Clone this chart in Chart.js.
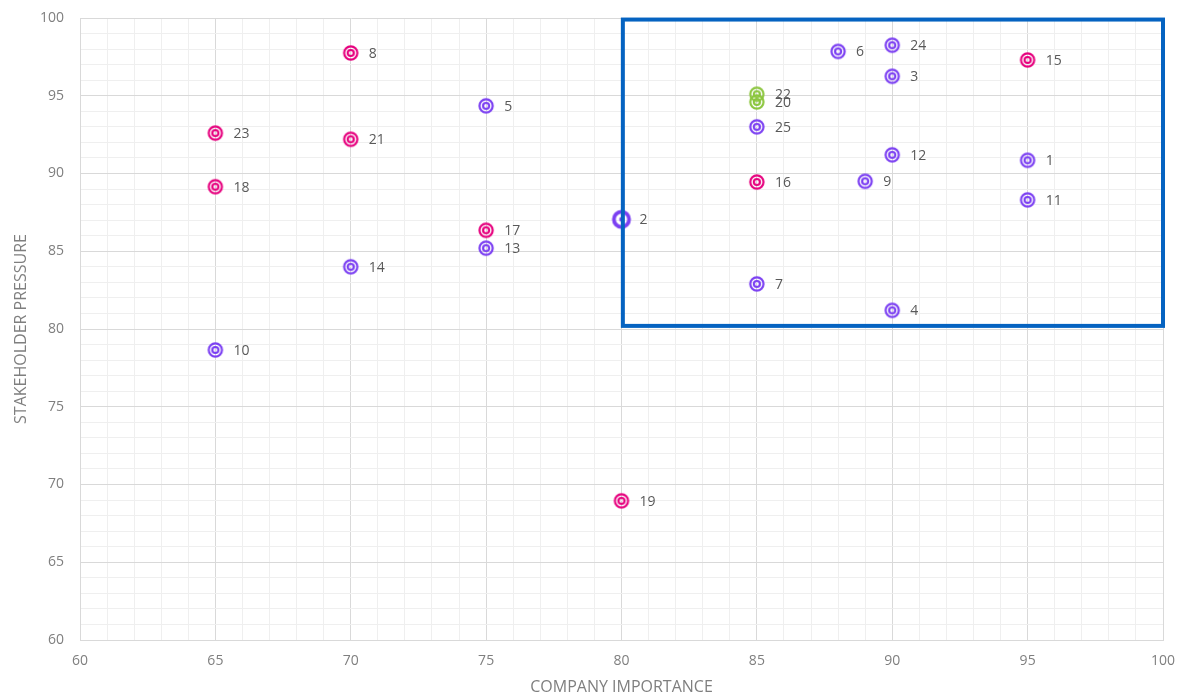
<!DOCTYPE html>
<html>
<head>
<meta charset="utf-8">
<script src="https://cdn.jsdelivr.net/npm/chart.js@4.4.1/dist/chart.umd.min.js"></script>
<style>
  html, body { margin: 0; padding: 0; background: #ffffff; }
  #wrap { width: 1185px; height: 697px; }
</style>
</head>
<body>
<div id="wrap"><canvas id="c" width="1185" height="697"></canvas></div>
<script>
// Materiality topics: id, company importance (x), stakeholder pressure (y), group
const topicIds   = [1, 2, 3, 4, 5, 6, 7, 8, 9, 10, 11, 12, 13, 14, 15, 16, 17, 18, 19, 20, 21, 22, 23, 24, 25];
const importance = [95, 80, 90, 90, 75, 88, 85, 70, 89, 65, 95, 90, 75, 70, 95, 85, 75, 65, 80, 85, 70, 85, 65, 90, 85];
const pressure   = [90.85, 87.05, 96.25, 81.2, 94.35, 97.85, 82.9, 97.75, 89.5, 78.65, 88.3, 91.2, 85.2, 84.0, 97.3, 89.45, 86.35, 89.15, 68.95, 94.6, 92.2, 95.1, 92.6, 98.25, 93.0];
const topicGroup = ['env', 'env', 'env', 'env', 'env', 'env', 'env', 'soc', 'env', 'env', 'env', 'env', 'env', 'env', 'soc', 'soc', 'soc', 'soc', 'soc', 'gov', 'soc', 'gov', 'soc', 'env', 'env'];
const highlighted = [2];

// Group colours
const groupKeys   = ['env', 'soc', 'gov'];
const groupColors = { env: '#7b3ff2', soc: '#e6007e', gov: '#8cc63f' };

// Focus area (upper-right quadrant)
const focusX = [80.05, 100];
const focusY = [80.2, 99.9];

// Axis settings
const xRange = [60, 100];
const yRange = [60, 100];
const majorStep = 5;

function ringMarker(color, big) {
  const s = 24, c = s / 2;
  const cv = document.createElement('canvas');
  cv.width = s; cv.height = s;
  const g = cv.getContext('2d');
  g.strokeStyle = color;
  g.fillStyle = color;
  if (big) {
    g.lineWidth = 3.8;
    g.beginPath(); g.arc(c, c, 7.6, 0, Math.PI * 2); g.stroke();
    g.beginPath(); g.arc(c, c, 2.3, 0, Math.PI * 2); g.fill();
  } else {
    g.lineWidth = 2.2;
    g.beginPath(); g.arc(c, c, 6.6, 0, Math.PI * 2); g.stroke();
    g.beginPath(); g.arc(c, c, 3.0, 0, Math.PI * 2); g.stroke();
  }
  return cv;
}

const datasets = groupKeys.map(k => {
  const pts = [], styles = [];
  topicIds.forEach((id, i) => {
    if (topicGroup[i] !== k) return;
    pts.push({ x: importance[i], y: pressure[i], id: id });
    styles.push(ringMarker(groupColors[k], highlighted.includes(id)));
  });
  return {
    label: k,
    data: pts,
    pointStyle: styles,
    pointRadius: 8,
    pointHoverRadius: 8,
    borderColor: groupColors[k],
    backgroundColor: groupColors[k]
  };
});

const labelPlugin = {
  id: 'pointLabels',
  afterDatasetsDraw(chart) {
    const ctx = chart.ctx;
    ctx.save();
    ctx.font = '14px "Open Sans", "DejaVu Sans", sans-serif';
    ctx.fillStyle = '#595959';
    ctx.textAlign = 'left';
    ctx.textBaseline = 'middle';
    chart.data.datasets.forEach((ds, di) => {
      const meta = chart.getDatasetMeta(di);
      meta.data.forEach((el, j) => {
        ctx.fillText(String(ds.data[j].id), el.x + 18, el.y + 1);
      });
    });
    ctx.restore();
  }
};

const focusPlugin = {
  id: 'focusBox',
  afterDatasetsDraw(chart) {
    const ctx = chart.ctx;
    const xs = chart.scales.x, ys = chart.scales.y;
    const l = xs.getPixelForValue(focusX[0]), r = xs.getPixelForValue(focusX[1]);
    const t = ys.getPixelForValue(focusY[1]), b = ys.getPixelForValue(focusY[0]);
    ctx.save();
    ctx.strokeStyle = '#0563c1';
    ctx.lineWidth = 4;
    ctx.strokeRect(l, t, r - l, b - t);
    ctx.restore();
  }
};

const tickFont = { family: '"Open Sans", "DejaVu Sans", sans-serif', size: 14 };
const titleFont = { family: '"Open Sans", "DejaVu Sans", sans-serif', size: 16 };

function gridColor(ctx) {
  const v = ctx.tick ? ctx.tick.value : 0;
  return (Math.round(v) % majorStep === 0) ? '#d9d9d9' : '#efefef';
}

new Chart(document.getElementById('c'), {
  type: 'scatter',
  data: { datasets },
  plugins: [focusPlugin, labelPlugin],
  options: {
    responsive: false,
    animation: false,
    events: [],
    layout: { autoPadding: false, padding: { top: 18, right: 22, left: 0, bottom: 0 } },
    plugins: { legend: { display: false }, tooltip: { enabled: false } },
    scales: {
      x: {
        type: 'linear',
        min: xRange[0], max: xRange[1],
        ticks: {
          stepSize: 1, color: '#7f7f7f', font: tickFont, padding: 13,
          autoSkip: false, maxRotation: 0,
          callback: v => (v % majorStep === 0 ? String(v) : '')
        },
        grid: { color: gridColor, lineWidth: 1, drawTicks: false },
        border: { color: '#d9d9d9' },
        title: { display: true, text: 'COMPANY IMPORTANCE', color: '#7f7f7f', font: titleFont, padding: { top: 4, bottom: 0 } },
        afterFit: s => { s.height = 57; s.paddingLeft = 0; s.paddingRight = 0; }
      },
      y: {
        type: 'linear',
        min: yRange[0], max: yRange[1],
        ticks: {
          stepSize: 1, color: '#7f7f7f', font: tickFont, padding: 16,
          autoSkip: false,
          callback: v => (v % majorStep === 0 ? String(v) : '')
        },
        grid: { color: gridColor, lineWidth: 1, drawTicks: false },
        border: { color: '#d9d9d9' },
        title: { display: true, text: 'STAKEHOLDER PRESSURE', color: '#7f7f7f', font: titleFont, padding: { top: 12, bottom: 0 } },
        afterFit: s => { s.width = 80; s.paddingTop = 0; s.paddingBottom = 0; }
      }
    }
  }
});
</script>
</body>
</html>
